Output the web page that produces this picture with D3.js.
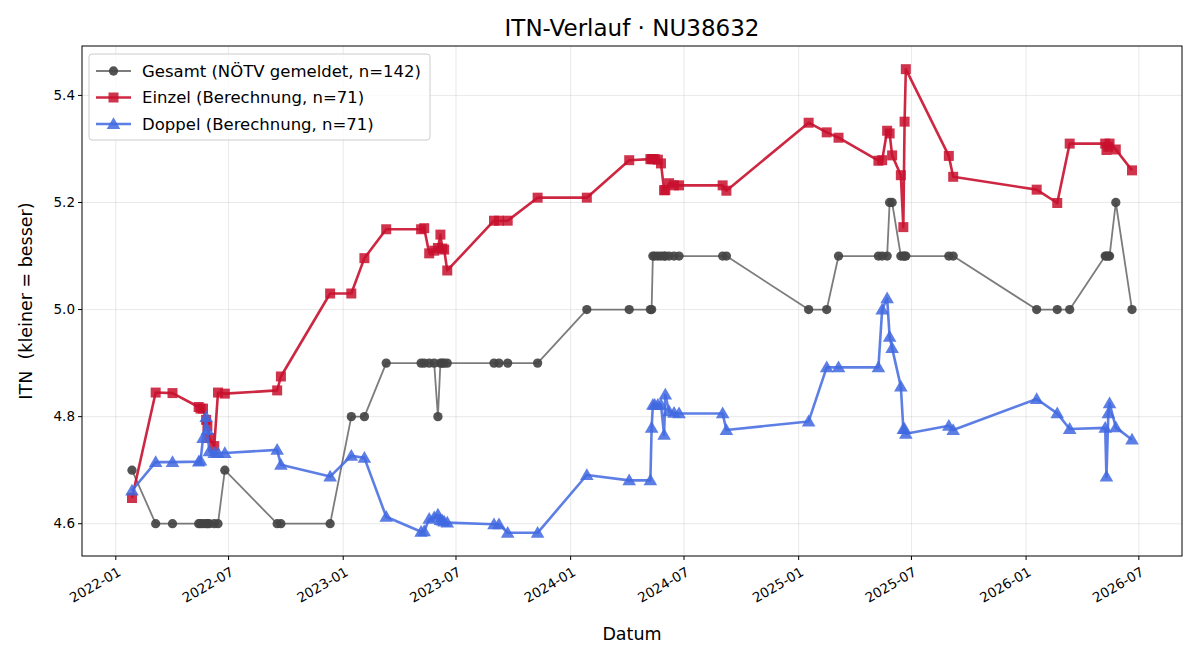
<!DOCTYPE html>
<html>
<head>
<meta charset="utf-8">
<script src="https://cdn.jsdelivr.net/npm/d3@7"></script>
<style>
  body { margin: 0; background: #fff; }
  svg { font-family: "DejaVu Sans", sans-serif; }
</style>
</head>
<body>
<div id="chart"></div>
<script>
// dates shared by all three series
var dates = [
  "2022-01-27","2022-03-06","2022-04-02","2022-05-14","2022-05-17","2022-05-21","2022-05-26","2022-05-28","2022-05-31","2022-06-08",
  "2022-06-14","2022-06-25","2022-09-17","2022-09-23","2022-12-11","2023-01-14","2023-02-04","2023-03-11","2023-05-06","2023-05-11",
  "2023-05-19","2023-05-27","2023-06-02","2023-06-06","2023-06-09","2023-06-12","2023-06-17","2023-08-31","2023-09-08","2023-09-22",
  "2023-11-09","2024-01-27","2024-04-04","2024-05-08","2024-05-10","2024-05-12","2024-05-15","2024-05-20","2024-05-25","2024-05-30",
  "2024-06-01","2024-06-07","2024-06-15","2024-06-23","2024-09-01","2024-09-07","2025-01-17","2025-02-15","2025-03-06","2025-05-09",
  "2025-05-15","2025-05-23","2025-05-27","2025-05-31","2025-06-14","2025-06-18","2025-06-20","2025-06-22","2025-08-30","2025-09-06",
  "2026-01-18","2026-02-20","2026-03-12","2026-05-08","2026-05-10","2026-05-13","2026-05-15","2026-05-25","2026-06-20"
];

var gesamt = [
  4.70,4.60,4.60,4.60,4.60,4.60,4.60,4.60,4.60,4.60,
  4.60,4.70,4.60,4.60,4.60,4.80,4.80,4.90,4.90,4.90,
  4.90,4.90,4.80,4.90,4.90,4.90,4.90,4.90,4.90,4.90,
  4.90,5.00,5.00,5.00,5.00,5.10,5.10,5.10,5.10,5.10,
  5.10,5.10,5.10,5.10,5.10,5.10,5.00,5.00,5.10,5.10,
  5.10,5.10,5.20,5.20,5.10,5.10,5.10,5.10,5.10,5.10,
  5.00,5.00,5.00,5.10,5.10,5.10,5.10,5.20,5.00
];

var einzel = [
  4.648,4.845,4.844,4.818,4.815,4.815,4.794,4.782,4.760,4.745,
  4.845,4.843,4.849,4.875,5.030,5.030,5.096,5.150,5.150,5.152,
  5.105,5.110,5.115,5.140,5.114,5.112,5.073,5.166,5.166,5.166,
  5.209,5.209,5.279,5.281,5.281,5.281,5.281,5.280,5.273,5.223,
  5.223,5.236,5.232,5.232,5.232,5.222,5.349,5.331,5.321,5.278,
  5.279,5.334,5.329,5.288,5.251,5.154,5.351,5.449,5.287,5.248,
  5.224,5.199,5.310,5.310,5.298,5.304,5.310,5.299,5.260
];

var doppel = [
  4.662,4.715,4.715,4.716,4.718,4.760,4.799,4.775,4.735,4.732,
  4.732,4.732,4.738,4.710,4.688,4.727,4.723,4.613,4.585,4.586,
  4.609,4.612,4.617,4.607,4.606,4.604,4.602,4.599,4.599,4.583,
  4.583,4.691,4.681,4.681,4.779,4.822,4.822,4.822,4.822,4.766,
  4.841,4.810,4.807,4.806,4.806,4.775,4.791,4.892,4.892,4.892,
  5.000,5.021,4.949,4.928,4.856,4.777,4.777,4.768,4.783,4.775,
  4.833,4.806,4.777,4.779,4.688,4.806,4.825,4.780,4.757
];

var yTickValues = [4.6, 4.8, 5.0, 5.2, 5.4];

var seriesNames = ["Gesamt (NÖTV gemeldet, n=142)", "Einzel (Berechnung, n=71)", "Doppel (Berechnung, n=71)"];

var width = 1200, height = 660;
var plotL = 82, plotR = 1182, plotT = 46, plotB = 556;

var parse = d3.timeParse("%Y-%m-%d");
var xs = dates.map(parse);

var series = [
  { name: seriesNames[0], values: gesamt, color: "#444444", lineOpacity: 0.7, lw: 1.8, marker: "circle" },
  { name: seriesNames[1], values: einzel, color: "#c8102e", lineOpacity: 0.9, lw: 2.6, marker: "square" },
  { name: seriesNames[2], values: doppel, color: "#4169e1", lineOpacity: 0.85, lw: 2.6, marker: "triangle" }
];

// matplotlib-like 5% margins
var xExt = d3.extent(xs);
var xPad = (xExt[1] - xExt[0]) * 0.05;
var allY = gesamt.concat(einzel, doppel);
var yExt = d3.extent(allY);
var yPad = (yExt[1] - yExt[0]) * 0.05;

var x = d3.scaleTime()
    .domain([new Date(+xExt[0] - xPad), new Date(+xExt[1] + xPad)])
    .range([plotL, plotR]);
var y = d3.scaleLinear()
    .domain([yExt[0] - yPad, yExt[1] + yPad])
    .range([plotB, plotT]);

var svg = d3.select("#chart").append("svg")
    .attr("width", width)
    .attr("height", height);

var xTicks = x.ticks(d3.timeMonth.every(6));

// grid
svg.append("g").selectAll("line")
    .data(xTicks).enter().append("line")
    .attr("x1", function(d) { return x(d); })
    .attr("x2", function(d) { return x(d); })
    .attr("y1", plotT).attr("y2", plotB)
    .attr("stroke", "#b0b0b0").attr("stroke-opacity", 0.35).attr("stroke-width", 0.8);
svg.append("g").selectAll("line")
    .data(yTickValues).enter().append("line")
    .attr("x1", plotL).attr("x2", plotR)
    .attr("y1", function(d) { return y(d); })
    .attr("y2", function(d) { return y(d); })
    .attr("stroke", "#b0b0b0").attr("stroke-opacity", 0.35).attr("stroke-width", 0.8);

var line = d3.line()
    .x(function(d) { return x(d[0]); })
    .y(function(d) { return y(d[1]); });

function drawMarker(sel, kind, size) {
  var sym = kind === "circle" ? d3.symbolCircle : kind === "square" ? d3.symbolSquare : d3.symbolTriangle;
  sel.attr("d", d3.symbol().type(sym).size(size));
}

var markerSize = { circle: 68, square: 100, triangle: 80 };
var markerOpacity = { circle: 0.92, square: 0.85, triangle: 0.85 };

series.forEach(function(s) {
  var pts = xs.map(function(d, i) { return [d, s.values[i]]; });
  var g = svg.append("g");
  g.append("path")
      .attr("d", line(pts))
      .attr("fill", "none")
      .attr("stroke", s.color)
      .attr("stroke-opacity", s.lineOpacity)
      .attr("stroke-width", s.lw)
      .attr("stroke-linejoin", "round");
  g.selectAll("path.m")
      .data(pts).enter().append("path")
      .attr("class", "m")
      .call(drawMarker, s.marker, markerSize[s.marker])
      .attr("transform", function(d) { return "translate(" + x(d[0]) + "," + (y(d[1]) + (s.marker === "triangle" ? 1 : 0)) + ")"; })
      .attr("fill", s.color)
      .attr("fill-opacity", markerOpacity[s.marker]);
});

// frame
svg.append("rect")
    .attr("x", plotL).attr("y", plotT)
    .attr("width", plotR - plotL).attr("height", plotB - plotT)
    .attr("fill", "none").attr("stroke", "#000").attr("stroke-width", 1);

// x axis
var xAxis = svg.append("g");
xAxis.selectAll("line")
    .data(xTicks).enter().append("line")
    .attr("x1", function(d) { return x(d); })
    .attr("x2", function(d) { return x(d); })
    .attr("y1", plotB).attr("y2", plotB + 4)
    .attr("stroke", "#000");
var fmt = d3.timeFormat("%Y-%m");
xAxis.selectAll("text")
    .data(xTicks).enter().append("text")
    .attr("transform", function(d) { return "translate(" + (x(d) + 1) + "," + (plotB + 10) + ") rotate(-30)"; })
    .attr("text-anchor", "end")
    .attr("dy", "0.75em")
    .attr("font-size", "13.5px")
    .text(function(d) { return fmt(d); });

// y axis
var yAxis = svg.append("g");
yAxis.selectAll("line")
    .data(yTickValues).enter().append("line")
    .attr("x1", plotL - 4).attr("x2", plotL)
    .attr("y1", function(d) { return y(d); })
    .attr("y2", function(d) { return y(d); })
    .attr("stroke", "#000");
yAxis.selectAll("text")
    .data(yTickValues).enter().append("text")
    .attr("x", plotL - 7)
    .attr("y", function(d) { return y(d); })
    .attr("dy", "0.35em")
    .attr("text-anchor", "end")
    .attr("font-size", "13.5px")
    .text(function(d) { return d.toFixed(1); });

// labels
svg.append("text")
    .attr("x", (plotL + plotR) / 2).attr("y", 36)
    .attr("text-anchor", "middle")
    .attr("font-size", "23px")
    .text("ITN-Verlauf · NU38632");
svg.append("text")
    .attr("x", (plotL + plotR) / 2).attr("y", 640)
    .attr("text-anchor", "middle")
    .attr("font-size", "17.5px")
    .text("Datum");
svg.append("text")
    .attr("transform", "translate(32," + ((plotT + plotB) / 2) + ") rotate(-90)")
    .attr("text-anchor", "middle")
    .attr("font-size", "17.5px")
    .style("white-space", "pre")
    .text("ITN  (kleiner = besser)");

// legend
var legend = svg.append("g");
legend.append("rect")
    .attr("x", 89).attr("y", 54)
    .attr("width", 341).attr("height", 86)
    .attr("rx", 3)
    .attr("fill", "#fff").attr("fill-opacity", 0.8)
    .attr("stroke", "#cccccc");
series.forEach(function(s, i) {
  var ly = 71 + i * 26.5;
  legend.append("line")
      .attr("x1", 96).attr("x2", 131)
      .attr("y1", ly).attr("y2", ly)
      .attr("stroke", s.color).attr("stroke-opacity", s.lineOpacity)
      .attr("stroke-width", s.lw);
  legend.append("path")
      .call(drawMarker, s.marker, markerSize[s.marker])
      .attr("transform", "translate(113.5," + (ly + (s.marker === "triangle" ? 1 : 0)) + ")")
      .attr("fill", s.color).attr("fill-opacity", markerOpacity[s.marker]);
  legend.append("text")
      .attr("x", 142).attr("y", ly)
      .attr("dy", "0.35em")
      .attr("font-size", "16.5px")
      .text(s.name);
});
</script>
</body>
</html>
